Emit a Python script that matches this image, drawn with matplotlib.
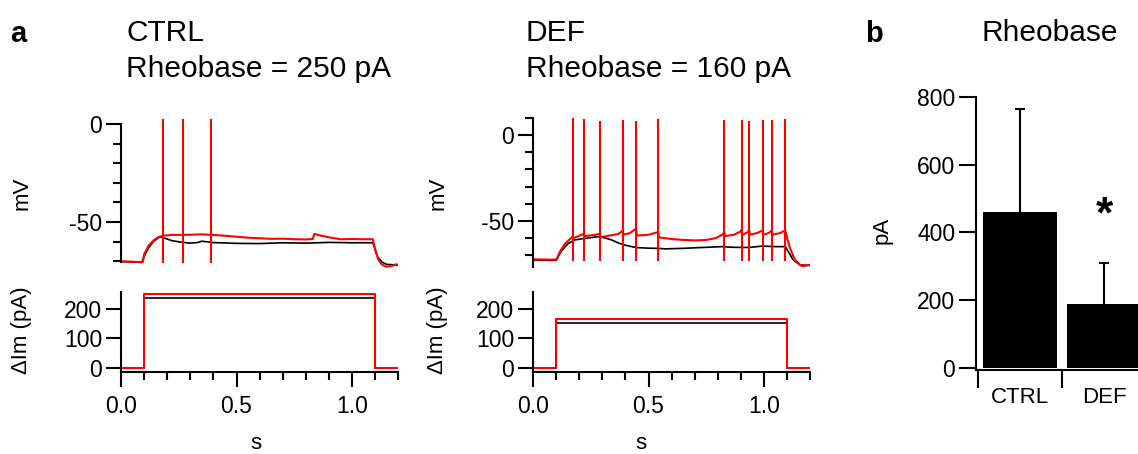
import matplotlib
matplotlib.use("Agg")
import matplotlib.pyplot as plt
from matplotlib.ticker import MultipleLocator, FixedLocator

plt.rcParams['font.family'] = ['Liberation Sans', 'DejaVu Sans']
plt.rcParams['axes.unicode_minus'] = False

# ---------------------------------------------------------------------------
# datos
# ---------------------------------------------------------------------------
# CTRL, potencial de membrana (s, mV)
ctrl_rojo_t = [0.0, 0.09, 0.095, 0.10, 0.12, 0.14, 0.16, 0.18, 0.22, 0.30, 0.35, 0.40, 0.45,
               0.50, 0.55, 0.60, 0.65, 0.70, 0.75, 0.80, 0.83, 0.837, 0.86, 0.90, 0.95,
               1.00, 1.05, 1.09, 1.10, 1.115, 1.13, 1.15, 1.17, 1.19, 1.20]
ctrl_rojo_v = [-70.0, -70.5, -70.3, -66.5, -62.0, -59.5, -57.8, -57.0, -56.6, -56.5, -56.3, -56.6, -57.0,
               -57.5, -58.0, -58.3, -58.6, -58.5, -58.8, -58.9, -58.7, -56.1, -56.8, -57.8, -58.8,
               -58.7, -58.8, -58.8, -64.0, -69.4, -71.8, -72.8, -72.6, -71.6, -71.8]
ctrl_negro_t = [0.0, 0.09, 0.10, 0.12, 0.14, 0.16, 0.17, 0.19, 0.22, 0.26, 0.30, 0.33, 0.35,
                0.40, 0.50, 0.60, 0.70, 0.80, 0.90, 1.00, 1.09, 1.10, 1.11, 1.13, 1.15, 1.20]
ctrl_negro_v = [-70.2, -70.6, -67.5, -63.0, -60.0, -58.2, -57.6, -58.3, -59.5, -60.3, -60.8, -60.5, -59.8,
                -60.5, -60.9, -61.0, -60.6, -60.8, -60.4, -60.6, -60.6, -64.0, -67.7, -70.5, -71.6, -72.0]
ctrl_espigas_t = [0.180, 0.267, 0.388]
ctrl_espigas_pico = [2.5, 2.5, 2.5]
ctrl_espigas_fondo = [-70.8, -70.8, -70.8]

# DEF, potencial de membrana (s, mV)
def_rojo_t = [0.0, 0.10, 0.105, 0.12, 0.14, 0.16, 0.172, 0.175, 0.21, 0.219, 0.222, 0.26, 0.289,
              0.292, 0.33, 0.37, 0.385, 0.388, 0.391, 0.42, 0.44, 0.446, 0.449, 0.50, 0.54, 0.542,
              0.545, 0.60, 0.65, 0.70, 0.75, 0.79, 0.82, 0.828, 0.831, 0.87, 0.90, 0.903, 0.906,
              0.93, 0.936, 0.939, 0.97, 0.994, 0.997, 1.02, 1.034, 1.037, 1.07, 1.091, 1.095,
              1.10, 1.113, 1.134, 1.163, 1.18, 1.20]
def_rojo_v = [-72.3, -72.5, -71.5, -67.0, -63.0, -60.5, -59.0, -60.0, -58.0, -57.5, -58.8, -58.2, -57.5,
              -59.5, -58.5, -57.5, -56.0, -55.5, -58.0, -57.0, -55.0, -54.5, -58.5, -58.0, -56.5, -56.0,
              -59.5, -60.5, -61.0, -61.3, -61.0, -60.0, -58.0, -56.5, -58.8, -58.0, -56.0, -55.0, -58.0,
              -56.5, -55.0, -58.0, -57.0, -55.5, -58.0, -57.0, -55.5, -58.0, -57.0, -55.5, -57.0,
              -60.0, -65.9, -72.7, -76.2, -76.0, -75.4]
def_negro_t = [0.0, 0.10, 0.105, 0.124, 0.153, 0.182, 0.225, 0.26, 0.283, 0.31, 0.34, 0.37, 0.398,
               0.43, 0.455, 0.50, 0.542, 0.571, 0.65, 0.716, 0.818, 0.87, 0.934, 0.991, 1.05, 1.093,
               1.105, 1.127, 1.156, 1.20]
def_negro_v = [-72.7, -72.9, -71.5, -67.2, -63.0, -61.0, -60.1, -59.5, -59.1, -59.8, -61.0, -62.8, -64.0,
               -65.0, -65.5, -65.8, -65.9, -66.2, -65.9, -65.5, -64.9, -65.3, -65.4, -64.6, -64.9, -64.9,
               -67.8, -72.7, -75.6, -75.8]
def_espigas_t = [0.172, 0.219, 0.289, 0.388, 0.446, 0.542, 0.828, 0.903, 0.936, 0.994, 1.034, 1.091]
def_espigas_pico = [9.7, 9.1, 8.1, 8.7, 8.3, 9.1, 8.7, 8.7, 8.1, 8.7, 8.7, 9.1]
def_espigas_fondo = [-73.5, -73.5, -73.5, -73.5, -73.5, -73.5, -73.0, -73.0, -73.0, -73.0, -73.0, -73.0]

# corriente inyectada (s, pA)
paso_t = [0.0, 0.1, 0.1, 1.1, 1.1, 1.2]
ctrl_i_rojo = [0, 0, 250, 250, 0, 0]
ctrl_i_negro = [0, 0, 235, 235, 0, 0]
def_i_rojo = [0, 0, 165, 165, 0, 0]
def_i_negro = [0, 0, 150, 150, 0, 0]

# barras de reobase
grupos = ['CTRL', 'DEF']
reobase_media = [460, 189]
reobase_error = [304, 121]

# ---------------------------------------------------------------------------
W, H = 1138, 454
fig = plt.figure(figsize=(W / 100, H / 100), dpi=100)


def ejes_px(x0, y0, x1, y1):
    return fig.add_axes([x0 / W, 1 - y1 / H, (x1 - x0) / W, (y1 - y0) / H])


def estilo(ax):
    ax.spines['top'].set_visible(False)
    ax.spines['right'].set_visible(False)
    for s in ('left', 'bottom'):
        ax.spines[s].set_linewidth(1.5)
    ax.tick_params(which='major', direction='out', length=10.5, width=1.5, labelsize=16.5, pad=3)
    ax.tick_params(which='minor', direction='out', length=5.5, width=1.5)
    ax.patch.set_visible(False)


lw_rojo = 1.5
lw_negro = 1.2


def panel(x0, v_top, v_bot, px_mv, y0mv, rojo_t, rojo_v, negro_t, negro_v,
          esp_t, esp_p, esp_f, i_rojo, i_negro, bounds, yticks_min):
    x1 = x0 + 1.2 * 231
    # voltaje
    av = ejes_px(x0, y0mv - v_top * px_mv, x1, y0mv - v_bot * px_mv)
    estilo(av)
    av.plot(negro_t, negro_v, color='black', lw=lw_negro)
    av.plot(rojo_t, rojo_v, color='red', lw=lw_rojo)
    av.vlines(esp_t, esp_f, esp_p, color='red', lw=lw_rojo)
    av.set_xlim(0, 1.2)
    av.set_ylim(v_bot, v_top)
    av.spines['bottom'].set_visible(False)
    av.spines['left'].set_bounds(*bounds)
    av.set_xticks([])
    av.yaxis.set_major_locator(FixedLocator([0, -50]))
    av.yaxis.set_minor_locator(FixedLocator(yticks_min))
    # corriente
    ai = ejes_px(x0, 368 - 260 * 0.297, x1, 368 + 13 * 0.297)
    estilo(ai)
    ai.plot(paso_t, i_negro, color='black', lw=lw_negro)
    ai.plot(paso_t, i_rojo, color='red', lw=lw_rojo)
    ai.set_xlim(0, 1.2)
    ai.set_ylim(-13, 260)
    ai.spines['left'].set_bounds(-13, 255)
    ai.spines['bottom'].set_bounds(0, 1.2)
    ai.set_yticks([0, 100, 200])
    ai.set_xticks([0.0, 0.5, 1.0])
    ai.set_xticklabels(['0.0', '0.5', '1.0'])
    ai.xaxis.set_minor_locator(MultipleLocator(0.1))
    ai.tick_params(axis='x', pad=6)
    return av, ai


panel(121, 4, -74, 1.96, 124, ctrl_rojo_t, ctrl_rojo_v, ctrl_negro_t, ctrl_negro_v,
      ctrl_espigas_t, ctrl_espigas_pico, ctrl_espigas_fondo, ctrl_i_rojo, ctrl_i_negro,
      (-70.5, 0), [-10, -20, -30, -40, -60, -70])
panel(533, 11, -78, 1.72, 135, def_rojo_t, def_rojo_v, def_negro_t, def_negro_v,
      def_espigas_t, def_espigas_pico, def_espigas_fondo, def_i_rojo, def_i_negro,
      (-77, 10), [10, -10, -20, -30, -40, -60, -70])

# etiquetas de ejes de las trazas
for xl in (22, 438):
    fig.text(xl / W, 1 - 193 / H, 'mV', rotation=90, ha='center', va='center', fontsize=16)
    fig.text(xl / W, 1 - 330 / H, 'ΔIm (pA)', rotation=90, ha='center', va='center', fontsize=16)
for xs in (256, 641):
    fig.text(xs / W, 1 - 449 / H, 's', ha='center', va='baseline', fontsize=16)

# titulos
fig.text(18 / W, 1 - 42 / H, 'a', ha='center', va='baseline', fontsize=21, fontweight='bold')
fig.text(874 / W, 1 - 42 / H, 'b', ha='center', va='baseline', fontsize=21, fontweight='bold')
fig.text(126 / W, 1 - 41 / H, 'CTRL', ha='left', va='baseline', fontsize=21.5)
fig.text(126 / W, 1 - 77 / H, 'Rheobase = 250 pA', ha='left', va='baseline', fontsize=21.5)
fig.text(526 / W, 1 - 41 / H, 'DEF', ha='left', va='baseline', fontsize=21.5)
fig.text(526 / W, 1 - 77 / H, 'Rheobase = 160 pA', ha='left', va='baseline', fontsize=21.5)
fig.text(1050 / W, 1 - 41 / H, 'Rheobase', ha='center', va='baseline', fontsize=21.5)

# panel b
esc = 0.339
ab = ejes_px(976, 368 - 810 * esc, 1138, 368 + 6 * esc)
estilo(ab)
xs_barras = list(range(len(grupos)))
topes = [m + e for m, e in zip(reobase_media, reobase_error)]
ab.bar(xs_barras, reobase_media, width=0.88, color='black')
ab.vlines(xs_barras, reobase_media, topes, color='black', lw=1.5)
ab.hlines(topes, [x - 0.055 for x in xs_barras], [x + 0.055 for x in xs_barras],
          color='black', lw=1.5)
ab.set_xlim(-0.524, 1.405)
ab.set_ylim(-6, 810)
ab.spines['left'].set_bounds(-6, 800)
ab.set_yticks([0, 200, 400, 600, 800])
ab.tick_params(axis='y', length=12)
ab.xaxis.set_major_locator(FixedLocator([-0.5, 0.5, 1.5]))
ab.xaxis.set_major_formatter(plt.NullFormatter())
ab.tick_params(axis='x', which='major', length=13)
ab.set_xticks(xs_barras, minor=True)
ab.set_xticklabels(grupos, minor=True)
ab.tick_params(axis='x', which='minor', length=0, pad=12, labelsize=16)
ab.text(1, 450, '*', ha='center', va='center', fontsize=32, fontweight='bold')
fig.text(882 / W, 1 - 230 / H, 'pA', rotation=90, ha='center', va='center', fontsize=16)

fig.savefig('out.png', dpi=100)
